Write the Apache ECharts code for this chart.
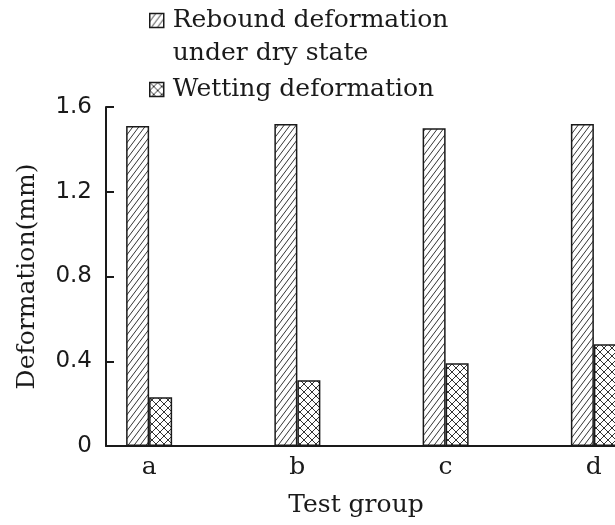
<!DOCTYPE html>
<html>
<head>
<meta charset="utf-8">
<script src="https://cdn.jsdelivr.net/npm/echarts@6/dist/echarts.min.js"></script>
<style>
  html, body { margin: 0; padding: 0; background: #fff; }
  #chart { width: 615px; height: 525px; }
</style>
</head>
<body>
<div id="chart"></div>
<script>
// Test groups and measured deformations (mm)
const categories = ['a', 'b', 'c', 'd'];
const dryName = 'Rebound deformation\nunder dry state';
const wetName = 'Wetting deformation';
const dryValues = [1.51, 1.52, 1.50, 1.52];
const wetValues = [0.23, 0.31, 0.39, 0.48];
const yTickLabels = ['0', '0.4', '0.8', '1.2', '1.6'];

const INK = '#1a1a1a';
const SERIF = '"DejaVu Serif", serif';
const SANS = '"DejaVu Sans", sans-serif';

// Diagonal "/" hatch tile
function diagonalTile() {
  const w = 6, h = 8;
  const c = document.createElement('canvas');
  c.width = w; c.height = h;
  const g = c.getContext('2d');
  g.fillStyle = '#fff';
  g.fillRect(0, 0, w, h);
  g.strokeStyle = '#333';
  g.lineWidth = 1;
  g.beginPath();
  g.moveTo(-w, 2 * h); g.lineTo(2 * w, -h);
  g.moveTo(-2 * w, 2 * h); g.lineTo(w, -h);
  g.moveTo(0, 2 * h); g.lineTo(3 * w, -h);
  g.stroke();
  return c;
}

// Cross "X" hatch tile
function crossTile() {
  const s = 8;
  const c = document.createElement('canvas');
  c.width = s; c.height = s;
  const g = c.getContext('2d');
  g.fillStyle = '#fff';
  g.fillRect(0, 0, s, s);
  g.strokeStyle = '#333';
  g.lineWidth = 1;
  g.beginPath();
  g.moveTo(0, 0); g.lineTo(s, s);
  g.moveTo(s, 0); g.lineTo(0, s);
  g.stroke();
  return c;
}

const dryFill = { image: diagonalTile(), repeat: 'repeat' };
const wetFill = { image: crossTile(), repeat: 'repeat' };

const chart = echarts.init(document.getElementById('chart'), null, { renderer: 'canvas' });

const legendBase = {
  left: 149,
  orient: 'vertical',
  padding: 0,
  itemWidth: 14,
  itemHeight: 14,
  icon: 'rect',
  itemStyle: { borderColor: INK, borderWidth: 1.5 },
  textStyle: {
    fontFamily: SERIF, fontSize: 25, color: INK, lineHeight: 33,
    rich: { t: { fontFamily: SERIF, fontSize: 25, color: INK, lineHeight: 33, padding: [0, 0, 0, 4] } }
  },
  // the blank first line keeps the icon level with the first text line
  formatter: function (name) {
    const lines = name.split('\n').map(function (s) { return '{t|' + s + '}'; }).join('\n');
    return name === dryName ? ' \n' + lines : lines;
  }
};

chart.setOption({
  animation: false,
  backgroundColor: '#fff',
  legend: [
    Object.assign({}, legendBase, { top: -29, data: [dryName] }),
    Object.assign({}, legendBase, { top: 73, data: [wetName] })
  ],
  grid: [
    // bar area (runs past the right edge)
    { left: 75, right: -53, top: 107, bottom: 79, outerBoundsMode: 'none' },
    // visible axes
    { left: 106, right: 0, top: 107, bottom: 79, outerBoundsMode: 'none' }
  ],
  xAxis: [
    {
      type: 'category',
      gridIndex: 0,
      data: categories,
      axisLine: { show: false },
      axisTick: { show: false },
      axisLabel: { fontFamily: SERIF, fontSize: 25, color: INK, margin: 9 }
    },
    {
      type: 'value',
      gridIndex: 1,
      min: 0, max: 1,
      axisLine: { show: true, lineStyle: { color: INK, width: 2 } },
      axisTick: { show: false },
      axisLabel: { show: false },
      splitLine: { show: false },
      name: 'Test group',
      nameLocation: 'middle',
      nameGap: 47,
      nameTextStyle: { fontFamily: SERIF, fontSize: 25, color: INK, padding: [0, 9, 0, 0] }
    }
  ],
  yAxis: [
    {
      type: 'value',
      gridIndex: 0,
      min: 0, max: 1.6, interval: 0.4,
      show: false
    },
    {
      type: 'value',
      gridIndex: 1,
      min: 0, max: 1.6, interval: 0.4,
      axisLine: { show: true, lineStyle: { color: INK, width: 2 } },
      axisTick: { show: true, inside: true, length: 8, lineStyle: { color: INK, width: 2 } },
      splitLine: { show: false },
      axisLabel: {
        fontFamily: SANS, fontSize: 23, color: INK, margin: 14,
        formatter: function (v) { return yTickLabels[Math.round(v / 0.4)]; }
      },
      name: 'Deformation(mm)',
      nameLocation: 'middle',
      nameGap: 66,
      nameTextStyle: { fontFamily: SERIF, fontSize: 25, color: INK }
    }
  ],
  series: [
    {
      name: dryName,
      type: 'bar',
      xAxisIndex: 0, yAxisIndex: 0,
      data: dryValues,
      barWidth: 23,
      barGap: '0%',
      itemStyle: { color: dryFill, borderColor: INK, borderWidth: 1.5 }
    },
    {
      name: wetName,
      type: 'bar',
      xAxisIndex: 0, yAxisIndex: 0,
      data: wetValues,
      barWidth: 23,
      barGap: '0%',
      itemStyle: { color: wetFill, borderColor: INK, borderWidth: 1.5 }
    }
  ]
});
</script>
</body>
</html>
